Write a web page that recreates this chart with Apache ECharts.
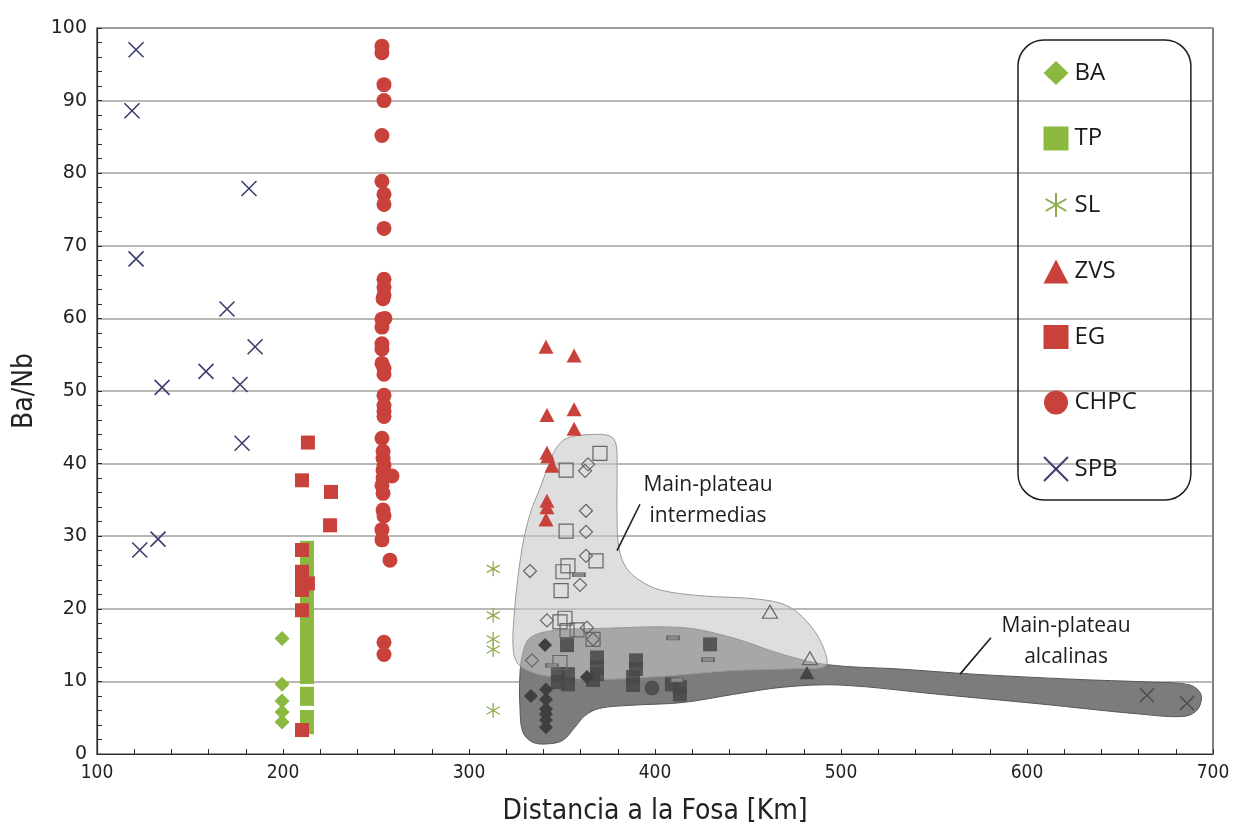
<!DOCTYPE html>
<html>
<head>
<meta charset="utf-8">
<title>Ba/Nb vs distancia a la fosa</title>
<script src="https://cdn.jsdelivr.net/npm/echarts@6/dist/echarts.min.js"></script>
<style>
  html, body { margin: 0; padding: 0; background: #fff; }
  #chart { width: 1253px; height: 831px; }
</style>
</head>
<body>
<div id="chart"></div>
<script>
// ---- Datos: [distancia a la fosa (km), Ba/Nb] ----
const xTicks = [100, 200, 300, 400, 500, 600, 700];
const yTicks = [0, 10, 20, 30, 40, 50, 60, 70, 80, 90, 100];

const BA = [[199.5, 15.9], [199.5, 9.6], [199.5, 7.3], [199.5, 5.8], [199.5, 4.4]];

const TP = [
  [212.9, 28.4], [212.9, 27.4], [212.9, 26.5], [212.9, 25.6], [212.9, 24.5], [212.9, 23.6],
  [212.9, 22.5], [212.9, 21.6], [212.9, 20.5], [212.9, 19.6], [212.9, 18.5], [212.9, 17.6],
  [212.9, 16.5], [212.9, 15.5], [212.9, 14.6], [212.9, 13.5], [212.9, 12.6], [212.9, 11.6],
  [212.9, 10.6], [212.9, 8.3], [212.9, 7.6], [212.9, 5.1], [212.9, 3.7]
];

const SL = [[313.0, 25.5], [313.0, 19.1], [313.0, 15.8], [313.0, 14.4], [313.0, 6.0]];

const ZVS = [
  [341.4, 56.1], [356.5, 54.9], [341.9, 46.7], [356.5, 47.5], [356.5, 44.8], [341.9, 41.5],
  [342.4, 41.0], [344.6, 39.7], [341.9, 34.9], [341.9, 34.0], [341.4, 32.3]
];

const EG = [
  [213.4, 42.9], [210.2, 37.7], [225.8, 36.1], [225.3, 31.5], [210.2, 28.1], [210.2, 25.1],
  [210.2, 23.9], [213.4, 23.5], [210.2, 22.6], [210.2, 19.8], [210.2, 3.3]
];

const CHPC = [
  [253.2, 97.5], [253.2, 96.6], [254.3, 92.2], [254.3, 90.0], [253.2, 85.2], [253.2, 78.9],
  [254.3, 77.1], [254.3, 75.7], [254.3, 72.4], [254.3, 65.4], [254.3, 64.3], [254.3, 63.2],
  [253.8, 62.7], [253.2, 59.9], [254.8, 60.0], [253.2, 58.8], [253.2, 56.5], [253.2, 55.8],
  [253.2, 53.8], [254.3, 53.1], [254.3, 52.3], [254.3, 49.4], [254.3, 48.0], [254.3, 47.2],
  [254.3, 46.5], [253.2, 43.5], [253.8, 41.7], [253.8, 40.7], [254.3, 39.8], [253.8, 39.1],
  [258.6, 38.3], [253.8, 38.0], [253.2, 37.0], [253.8, 35.9], [253.8, 33.6], [254.3, 32.8],
  [253.2, 30.9], [253.2, 29.5], [257.5, 26.7], [254.3, 15.4], [254.3, 13.7]
];

const SPB = [
  [121.0, 97.0], [118.8, 88.6], [181.7, 77.9], [121.0, 68.2], [169.9, 61.3], [185.0, 56.1],
  [158.6, 52.7], [135.0, 50.5], [176.9, 50.9], [178.0, 42.8], [123.0, 28.1], [132.8, 29.6]
];

// Main-plateau: intermedias (símbolos abiertos)
const MPI_rombo = [
  [364.0, 39.9], [362.4, 39.0], [362.9, 33.5], [362.9, 30.6], [332.8, 25.2], [362.9, 27.3],
  [359.7, 23.3], [341.9, 18.4], [363.4, 17.4], [333.9, 12.9], [366.7, 15.8]
];
const MPI_cuadrado = [
  [370.4, 41.4], [352.2, 39.1], [352.2, 30.7], [353.2, 25.9], [350.5, 25.1], [368.3, 26.6],
  [349.5, 22.5], [348.9, 18.2], [351.6, 18.7], [352.7, 17.0], [358.1, 17.1], [366.7, 15.8],
  [348.9, 12.6]
];
const MPI_triangulo = [[461.8, 19.6], [483.3, 13.2]];
const MP_barra = [[359.1, 24.7], [344.6, 12.2], [409.7, 16.0], [428.5, 13.0], [411.8, 10.2]];

// Main-plateau: alcalinas (símbolos rellenos)
const MPA_rombo = [
  [340.9, 15.0], [363.4, 10.6], [333.3, 8.0], [341.4, 8.9], [341.4, 7.5], [341.4, 6.2],
  [341.4, 5.5], [341.4, 4.7], [341.4, 3.7]
];
const MPA_cuadrado = [
  [352.7, 15.0], [347.8, 11.0], [353.2, 11.0], [347.8, 9.9], [353.2, 9.6], [368.8, 13.3],
  [368.8, 11.9], [368.8, 11.0], [366.7, 10.2], [389.8, 12.9], [389.8, 11.7], [388.2, 10.6],
  [388.2, 9.5], [409.1, 9.6], [413.4, 9.2], [413.4, 8.2], [429.6, 15.1]
];
const MPA_triangulo = [[481.7, 11.2]];
const MPA_circulo = [[398.4, 9.1]];
const MPA_cruz = [[664.5, 8.1], [686.0, 7.0]];

// Campos composicionales (contornos en coordenadas de datos)
const campoIntermedias = [
  [352.7, 43.5], [365.1, 44.0], [375.8, 43.8], [379.0, 42.7], [379.6, 39.4], [379.6, 32.5],
  [380.6, 28.4], [384.4, 25.7], [391.9, 23.9], [402.7, 22.6], [424.2, 21.8], [456.5, 21.3],
  [472.6, 20.2], [484.4, 17.4], [490.9, 14.4], [491.9, 12.2], [478.0, 11.8], [441.9, 11.5],
  [417.2, 11.0], [397.3, 10.6], [370.4, 10.3], [343.5, 10.7], [331.7, 11.5], [325.8, 12.6],
  [323.7, 14.7], [324.2, 18.8], [326.3, 24.3], [329.6, 29.8], [333.9, 33.9], [338.2, 36.6],
  [342.5, 39.6], [346.8, 42.1]
];
const campoAlcalinas = [
  [332.8, 16.0], [345.2, 17.0], [370.4, 17.3], [415.1, 17.4], [441.9, 16.0], [468.8, 13.7],
  [492.5, 12.3], [531.7, 11.7], [571.0, 11.0], [624.7, 10.3], [666.1, 9.9], [687.6, 9.5],
  [693.5, 8.2], [691.9, 6.2], [684.9, 5.2], [660.8, 5.5], [607.0, 6.9], [553.2, 8.2],
  [499.5, 9.5], [468.8, 9.2], [441.9, 8.2], [415.1, 7.1], [386.6, 6.7], [370.4, 6.3],
  [362.4, 5.3], [357.0, 3.7], [350.5, 1.9], [342.5, 1.4], [334.4, 1.6], [329.0, 3.0],
  [327.4, 6.4], [327.4, 11.0], [329.0, 14.0]
];

// Rótulos de los campos: texto, posición del texto y segmento guía
const rotulos = [
  { texto: 'Main-plateau\nintermedias', en: [428.5, 34.9], desde: [391.9, 34.4], hasta: [379.6, 28.0] },
  { texto: 'Main-plateau\nalcalinas', en: [621.0, 15.5], desde: [580.6, 16.0], hasta: [564.0, 11.0] }
];

// ---- Estilos ----
const ROJO = '#c8413a';
const VERDE = '#8bb83f';
const VERDE_SL = '#8fac4c';
const AZUL = '#3b3e6e';
const FONT_NARROW = '"Liberation Sans Narrow", "DejaVu Sans Condensed", "Open Sans", sans-serif';
const FONT_LEGEND = '"Open Sans", "Noto Sans", sans-serif';

const CRUZ = 'path://M0 0L10 10M10 0L0 10';
const ASTERISCO = 'path://M5 0L5 10M0.67 2.5L9.33 7.5M0.67 7.5L9.33 2.5';

function campo(name, pts, fill, stroke, z) {
  return {
    name, type: 'custom', coordinateSystem: 'cartesian2d', z, silent: true,
    data: [pts[0]],
    renderItem(params, api) {
      return {
        type: 'polygon',
        shape: { points: pts.map(p => api.coord(p)), smooth: 0.35 },
        style: { fill, stroke, lineWidth: 1 }
      };
    }
  };
}

function puntos(name, data, symbol, size, itemStyle, z) {
  return {
    name, type: 'scatter', data, symbol, symbolSize: size, symbolKeepAspect: true,
    itemStyle: Object.assign({ opacity: 1 }, itemStyle),
    z, silent: true, emphasis: { disabled: true }
  };
}

const abierto = { color: 'rgba(255,255,255,0)', borderColor: '#666666', borderWidth: 1.2 };

const option = {
  animation: false,
  backgroundColor: '#fff',
  grid: { left: 97, right: 40, top: 28, bottom: 74, show: true, borderColor: '#2b2b2b', borderWidth: 1.2 },
  xAxis: {
    type: 'value', min: xTicks[0], max: xTicks[xTicks.length - 1], interval: 100,
    name: 'Distancia a la Fosa [Km]', nameLocation: 'middle', nameGap: 44,
    nameTextStyle: { fontFamily: FONT_NARROW, fontSize: 28, color: '#222' },
    axisLine: { lineStyle: { color: '#2b2b2b', width: 1.2 } },
    axisTick: { inside: true, length: 5, lineStyle: { color: '#2b2b2b' } },
    minorTick: { show: true, splitNumber: 5, length: 5, lineStyle: { color: '#2b2b2b' } },
    axisLabel: { margin: 10, fontFamily: FONT_NARROW, fontSize: 19, color: '#222' },
    splitLine: { show: false }
  },
  yAxis: {
    type: 'value', min: yTicks[0], max: yTicks[yTicks.length - 1], interval: 10,
    name: 'Ba/Nb', nameLocation: 'middle', nameGap: 58, nameRotate: 90,
    nameTextStyle: { fontFamily: FONT_NARROW, fontSize: 28, color: '#222' },
    axisLine: { lineStyle: { color: '#2b2b2b', width: 1.2 } },
    axisTick: { inside: true, length: 5, lineStyle: { color: '#2b2b2b' } },
    minorTick: { show: true, splitNumber: 5, length: 5, lineStyle: { color: '#2b2b2b' } },
    axisLabel: { margin: 10, fontFamily: '"DejaVu Sans", Verdana, sans-serif', fontSize: 19, color: '#222' },
    splitLine: { show: true, lineStyle: { color: '#a49f9a', width: 1.5 } }
  },
  legend: {
    data: ['BA', 'TP', 'SL', 'ZVS', 'EG', 'CHPC', 'SPB'],
    orient: 'vertical', left: 1018, top: 40,
    padding: [21, 54, 18, 25], itemGap: 41.5, itemWidth: 25, itemHeight: 24,
    borderColor: '#1e1e1e', borderWidth: 1.5, borderRadius: 26,
    selectedMode: false,
    textStyle: { fontFamily: FONT_LEGEND, fontSize: 24, color: '#1a1a1a', padding: [0, 0, 0, 1] }
  },
  series: [
    campo('Campo alcalinas', campoAlcalinas, '#7c7c7c', '#585858', 1),
    campo('Campo intermedias', campoIntermedias, 'rgba(198,198,198,0.58)', '#9a9a9a', 2),
    {
      name: 'Rótulos', type: 'custom', coordinateSystem: 'cartesian2d', z: 3, silent: true,
      data: rotulos.map(r => r.en),
      renderItem(params, api) {
        const r = rotulos[params.dataIndex];
        const t = api.coord(r.en), a = api.coord(r.desde), b = api.coord(r.hasta);
        return {
          type: 'group',
          children: [
            { type: 'line', shape: { x1: a[0], y1: a[1], x2: b[0], y2: b[1] }, style: { stroke: '#1e1e1e', lineWidth: 1.6 } },
            { type: 'text', x: t[0], y: t[1], style: { text: r.texto, fill: '#1e1e1e', font: '21px "Open Sans", sans-serif', align: 'center', verticalAlign: 'middle', lineHeight: 31 } }
          ]
        };
      }
    },
    puntos('MP alcalinas ■', MPA_cuadrado, 'rect', 14, { color: 'rgba(72,72,72,0.85)' }, 4),
    puntos('MP alcalinas ◆', MPA_rombo, 'diamond', 14, { color: '#3f3f3f' }, 4),
    puntos('MP alcalinas ▲', MPA_triangulo, 'triangle', [15, 13], { color: '#444444' }, 4),
    puntos('MP alcalinas ●', MPA_circulo, 'circle', 15, { color: '#505050' }, 4),
    puntos('MP alcalinas ×', MPA_cruz, CRUZ, 14, { color: '#4a4a4a', borderColor: '#4a4a4a', borderWidth: 1.3 }, 4),
    puntos('MP intermedias ◇', MPI_rombo, 'diamond', 13, abierto, 5),
    puntos('MP intermedias □', MPI_cuadrado, 'rect', 14, abierto, 5),
    puntos('MP intermedias △', MPI_triangulo, 'triangle', [15, 13], abierto, 5),
    puntos('MP barra', MP_barra, 'rect', [12, 4], { color: '#8a8a8a', borderColor: '#666666', borderWidth: 1 }, 5),
    puntos('TP', TP, 'rect', 14, { color: VERDE }, 6),
    puntos('BA', BA, 'diamond', 15, { color: VERDE }, 6),
    puntos('SL', SL, ASTERISCO, 15, { color: VERDE_SL, borderColor: VERDE_SL, borderWidth: 1.3 }, 6),
    puntos('EG', EG, 'rect', 14, { color: ROJO }, 7),
    puntos('CHPC', CHPC, 'circle', 15, { color: ROJO }, 7),
    puntos('ZVS', ZVS, 'triangle', [15, 14], { color: ROJO }, 7),
    puntos('SPB', SPB, CRUZ, 15, { color: AZUL, borderColor: AZUL, borderWidth: 1.6 }, 7)
  ]
};

const chart = echarts.init(document.getElementById('chart'), null, { renderer: 'canvas' });
chart.setOption(option);
</script>
</body>
</html>
